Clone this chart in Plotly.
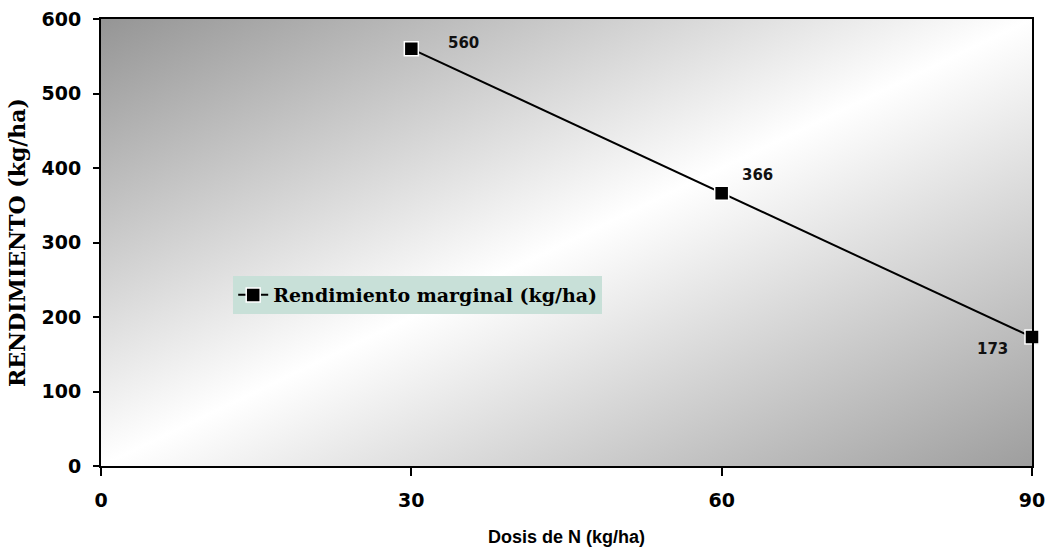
import base64
import plotly.graph_objects as go

# Marginal yield per nitrogen dose
dosis = [30, 60, 90]
rendimiento = [560, 366, 173]
etiquetas = ["560", "366", "173"]
# label offsets (px) relative to each point
label_dx = [52, 36, -40]
label_dy = [6, 18, -12]

x_ticks = [0, 30, 60, 90]
y_ticks = [0, 100, 200, 300, 400, 500, 600]

# Diagonal grey-white-grey gradient for the plotting area
svg = (
    '<svg xmlns="http://www.w3.org/2000/svg" width="100" height="100" '
    'preserveAspectRatio="none" viewBox="0 0 100 100">'
    '<defs><linearGradient id="g" x1="0" y1="0" x2="1" y2="1">'
    '<stop offset="0" stop-color="#959595"/>'
    '<stop offset="0.5" stop-color="#ffffff"/>'
    '<stop offset="1" stop-color="#9e9e9e"/>'
    '</linearGradient></defs>'
    '<rect x="0" y="0" width="100" height="100" fill="url(#g)"/></svg>'
)
svg_uri = "data:image/svg+xml;base64," + base64.b64encode(svg.encode()).decode()

fig = go.Figure()
fig.add_trace(go.Scatter(
    x=dosis, y=rendimiento,
    mode="lines+markers",
    name="Rendimiento marginal (kg/ha)",
    line=dict(color="black", width=2),
    marker=dict(symbol="square", size=14, color="black",
                line=dict(color="white", width=1.5)),
    cliponaxis=False,
))

for xv, yv, txt, dx, dy in zip(dosis, rendimiento, etiquetas, label_dx, label_dy):
    fig.add_annotation(
        x=xv, y=yv, text=txt, showarrow=False, xshift=dx, yshift=dy,
        font=dict(family="DejaVu Sans", size=15, color="#111111", weight="bold"),
    )

fig.update_layout(
    width=1048, height=550,
    margin=dict(l=101, r=16, t=19, b=84),
    paper_bgcolor="white",
    plot_bgcolor="rgba(0,0,0,0)",
    images=[dict(source=svg_uri, xref="paper", yref="paper", x=0, y=1,
                 sizex=1, sizey=1, sizing="stretch", layer="below",
                 xanchor="left", yanchor="top")],
    showlegend=True,
    legend=dict(
        x=0.142, y=0.425, xanchor="left", yanchor="top",
        bgcolor="#c8e0d8", borderwidth=0,
        font=dict(family="DejaVu Serif", size=19, color="black", weight="bold"),
        itemwidth=30, tracegroupgap=0,
    ),
    xaxis=dict(
        range=[0, 90], tickvals=x_ticks, showgrid=False, zeroline=False,
        automargin=False,
        showline=True, linecolor="black", linewidth=2, mirror=True,
        ticks="outside", ticklen=8, tickwidth=2, tickcolor="black",
        ticklabelstandoff=8,
        tickfont=dict(family="DejaVu Sans", size=19, color="black", weight="bold"),
        title=dict(text="Dosis de N (kg/ha)", standoff=21,
                   font=dict(family="Liberation Sans", size=18, color="black", weight="bold")),
    ),
    yaxis=dict(
        range=[0, 600], tickvals=y_ticks, showgrid=False, zeroline=False,
        automargin=False,
        showline=True, linecolor="black", linewidth=2, mirror=True,
        ticks="outside", ticklen=6, tickwidth=2, tickcolor="black",
        ticklabelstandoff=8,
        tickfont=dict(family="DejaVu Sans", size=19, color="black", weight="bold"),
        title=dict(text="RENDIMIENTO (kg/ha)", standoff=10,
                   font=dict(family="DejaVu Serif", size=22, color="black", weight="bold")),
    ),
)

fig.write_html("out.html")
